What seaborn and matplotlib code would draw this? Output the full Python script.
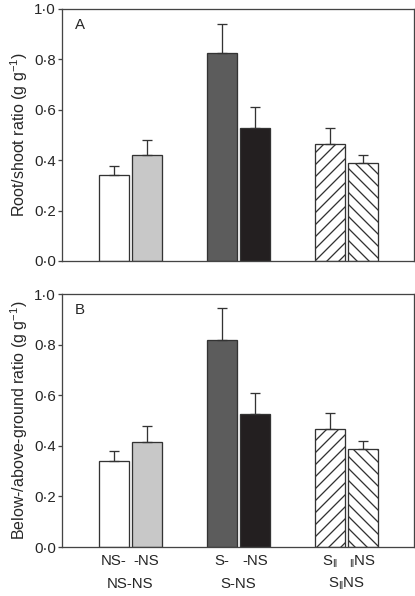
import seaborn as sns
import matplotlib.pyplot as plt
import pandas as pd

# Data
groups = ['NS-NS', 'S-NS', 'S\u2016NS']
group_labels = ['NS-NS', 'S-NS', r'S$_{\Vert}$NS']
sides = ['first', 'second']
bar_labels = ['NS-', '-NS', 'S-', '-NS', r'S$_{\Vert}$', r'$_{\Vert}$NS']

root_shoot = [0.34, 0.42, 0.825, 0.528, 0.465, 0.39]
root_shoot_err = [0.037, 0.06, 0.115, 0.083, 0.062, 0.032]
below_above = [0.34, 0.416, 0.818, 0.526, 0.468, 0.387]
below_above_err = [0.04, 0.062, 0.125, 0.081, 0.06, 0.033]

fills = ['white', '#c8c8c8', '#5c5c5c', '#231f20', 'white', 'white']
hatches = ['', '', '', '', '//', '\\\\']

ytick_vals = [0.0, 0.2, 0.4, 0.6, 0.8, 1.0]
ytick_labels = ['0\u00b70', '0\u00b72', '0\u00b74', '0\u00b76', '0\u00b78', '1\u00b70']

sns.set_style('ticks')
plt.rcParams['font.family'] = ['Liberation Sans', 'DejaVu Sans']
plt.rcParams['font.size'] = 15
plt.rcParams['mathtext.fontset'] = 'custom'
plt.rcParams['mathtext.rm'] = 'Liberation Sans'
plt.rcParams['mathtext.it'] = 'Liberation Sans'
plt.rcParams['hatch.linewidth'] = 1.3

# 72 dpi: one point is one pixel
fig = plt.figure(figsize=(415 / 72, 596 / 72), dpi=72)
axA = fig.add_axes([0.1494, 0.5621, 0.8482, 0.4229])
axB = fig.add_axes([0.1494, 0.0822, 0.8482, 0.4245])


def panel(ax, vals, errs, letter, ylabel, show_x):
    df = pd.DataFrame({
        'group': [g for g in groups for _ in sides],
        'side': sides * len(groups),
        'value': vals,
    })
    sns.barplot(df, x='group', y='value', hue='side', order=groups,
                hue_order=sides, width=0.61, gap=0.09, errorbar=None,
                legend=False, ax=ax)
    for si, cont in enumerate(ax.containers):
        for gi, bar in enumerate(cont):
            k = gi * 2 + si
            bar.set_facecolor(fills[k])
            bar.set_edgecolor('#333333')
            bar.set_linewidth(1.3)
            bar.set_hatch(hatches[k])
    centers = []
    for gi in range(len(groups)):
        for si in range(2):
            bar = ax.containers[si][gi]
            centers.append(bar.get_x() + bar.get_width() / 2)
    ax.errorbar(centers, vals, yerr=[[0] * len(vals), errs], fmt='none',
                ecolor='#333333', elinewidth=1.3, capsize=5, capthick=1.3)
    ax.set_xlim(-0.63, 2.625)
    ax.set_ylim(0, 1.0)
    ax.set_yticks(ytick_vals)
    ax.set_yticklabels(ytick_labels)
    ax.set_ylabel(ylabel, labelpad=4, fontsize=16)
    ax.set_xlabel('')
    for s in ax.spines.values():
        s.set_visible(True)
        s.set_color('#444444')
        s.set_linewidth(1.3)
    ax.tick_params(axis='y', direction='out', length=4, width=1.3,
                   color='#444444', pad=2)
    if show_x:
        ax.set_xticks(centers)
        ax.set_xticklabels(bar_labels)
        ax.tick_params(axis='x', length=0, pad=7)
        for gi, lab in enumerate(group_labels):
            ax.text(gi, -0.145, lab, ha='center', va='center',
                    transform=ax.get_xaxis_transform())
    else:
        ax.set_xticks([])
    ax.text(0.037, 0.937, letter, transform=ax.transAxes, ha='left',
            va='center')


panel(axA, root_shoot, root_shoot_err, 'A', 'Root/shoot ratio (g g$^{-1}$)', False)
panel(axB, below_above, below_above_err, 'B',
      'Below-/above-ground ratio (g g$^{-1}$)', True)

fig.savefig('out.png', dpi=72)
